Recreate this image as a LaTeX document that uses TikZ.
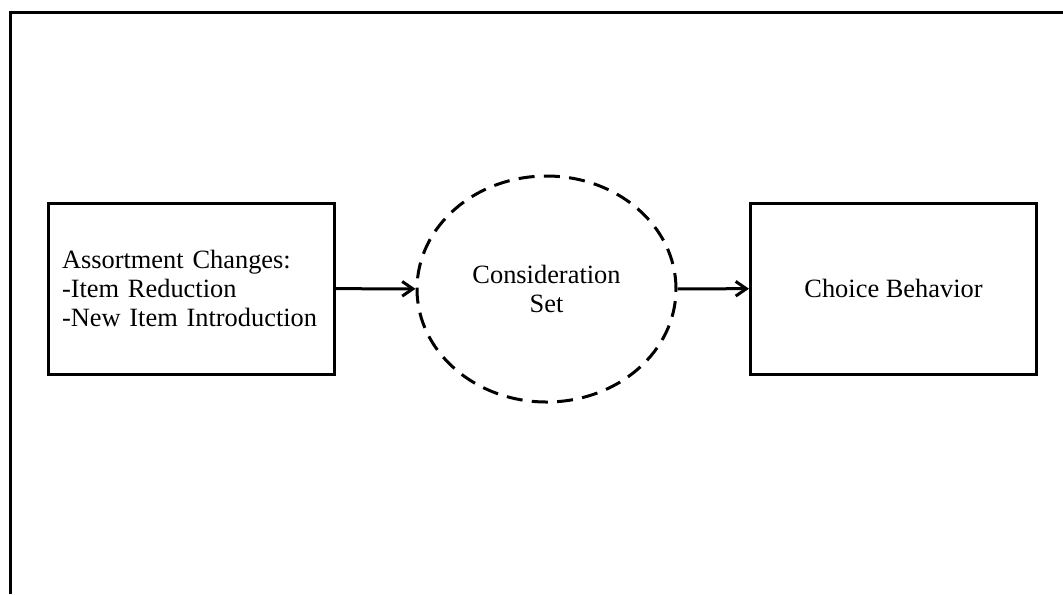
\documentclass[tikz,border=0pt]{standalone}
\usepackage{fontspec}
\setmainfont{Liberation Serif}
\usetikzlibrary{shapes.geometric,arrows.meta}

\begin{document}
\begin{tikzpicture}[x=0.75pt, y=-0.75pt, line width=2.25pt,
    font=\fontsize{19.8}{21.75}\selectfont,
    box/.style={draw, rectangle, inner sep=0pt, minimum width=214.5pt, minimum height=128.25pt},
    link/.style={-{Straight Barb[length=8pt,width=11pt]}}]
  \useasboundingbox (0,0) rectangle (1063,594);
  % frame
  \draw (1063,12) -- (10,12) -- (10,594);
  \path node (A) at (191,288.5) [box, inner xsep=10.5pt, text width=193.5pt, align=left]
              {Assortment Changes:\\-Item Reduction\\-New Item Introduction}
        node (C) at (546.5,289) [draw, ellipse, dash pattern=on 12pt off 7pt, inner sep=0pt,
                                 minimum width=194.25pt, minimum height=169.5pt, align=center] {Consideration\\Set}
        node (B) at (893.5,288.5) [box] {Choice Behavior};
  \draw [link] (A) -- (C);
  \draw [link] (C) -- (B);
\end{tikzpicture}
\end{document}
